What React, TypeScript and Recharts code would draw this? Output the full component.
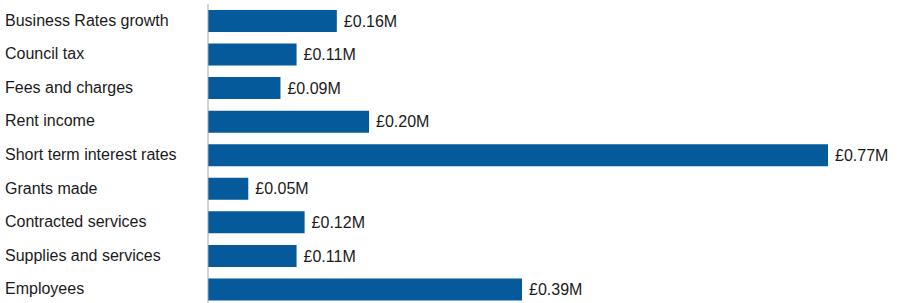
import { BarChart, Bar, XAxis, YAxis, LabelList } from "recharts";

const categories = [
  "Business Rates growth",
  "Council tax",
  "Fees and charges",
  "Rent income",
  "Short term interest rates",
  "Grants made",
  "Contracted services",
  "Supplies and services",
  "Employees",
];

// values in £ millions
const values = [0.16, 0.11, 0.09, 0.2, 0.77, 0.05, 0.12, 0.11, 0.39];

const data = categories.map((name, i) => ({ name, value: values[i] }));

const FONT = "'Liberation Sans', Arial, sans-serif";

function CategoryTick(props: any) {
  const { y, payload } = props;
  return (
    <text x={5} y={y} dy={5} textAnchor="start" fontSize={16} fill="#1a1a1a" fontFamily={FONT}>
      {payload.value}
    </text>
  );
}

export default function App() {
  return (
    <div style={{ position: "absolute", left: 0, top: 0, width: 900, height: 303, overflow: "hidden", background: "#fff" }}>
      <BarChart
        width={900}
        height={306}
        data={data}
        layout="vertical"
        margin={{ top: 4, right: 72, bottom: 0, left: 0 }}
        barCategoryGap={0}
      >
        <XAxis type="number" domain={[0, 0.77]} hide />
        <YAxis
          type="category"
          dataKey="name"
          width={208}
          tickLine={false}
          axisLine={{ stroke: "#a6a6a6", strokeWidth: 1 }}
          tick={<CategoryTick />}
          interval={0}
        />
        <Bar dataKey="value" fill="#045a9a" barSize={22} isAnimationActive={false}>
          <LabelList
            dataKey="value"
            position="right"
            offset={7}
            formatter={(v: any) => `£${Number(v).toFixed(2)}M`}
            style={{ fontSize: 16, fill: "#1a1a1a", fontFamily: FONT }}
          />
        </Bar>
      </BarChart>
    </div>
  );
}
